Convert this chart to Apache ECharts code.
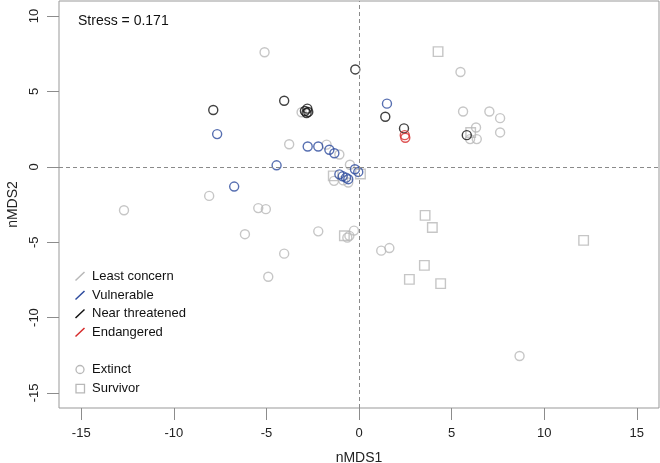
<!DOCTYPE html>
<html>
<head>
<meta charset="utf-8">
<script src="https://cdn.jsdelivr.net/npm/echarts@6/dist/echarts.min.js"></script>
<style>html,body{margin:0;padding:0;background:#fff}#c{width:660px;height:463px}</style>
</head>
<body>
<div id="c"></div>
<script>
// ---- data ----
const xTicks = [-15, -10, -5, 0, 5, 10, 15];
const yTicks = [-15, -10, -5, 0, 5, 10];

// Least concern, extinct (grey circles)
const lcExtinct = [
  [-5.1, 7.6], [5.48, 6.29], [5.62, 3.67], [7.04, 3.67], [7.62, 3.23], [6.32, 2.61],
  [7.62, 2.28], [6.0, 1.84], [6.36, 1.84], [-3.1, 3.62], [-3.77, 1.5], [-1.75, 1.47],
  [-1.06, 0.82], [-0.49, 0.14], [-1.35, -0.93], [-0.58, -1.04], [-0.85, -0.9],
  [-8.09, -1.93], [-12.69, -2.88], [-5.44, -2.74], [-5.03, -2.81], [-6.16, -4.47],
  [-2.2, -4.28], [-0.63, -4.7], [-0.52, -4.58], [-0.27, -4.23], [-4.04, -5.76],
  [-4.9, -7.29], [1.2, -5.56], [1.64, -5.39], [8.67, -12.55]
];
// Least concern, survivor (grey squares)
const lcSurvivor = [
  [4.27, 7.64], [6.03, 2.28], [-1.39, -0.6], [0.08, -0.48], [-0.79, -4.57],
  [3.57, -3.22], [3.96, -4.03], [12.13, -4.88], [3.53, -6.54], [2.72, -7.47], [4.41, -7.75]
];
// Vulnerable (blue circles)
const vuExtinct = [
  [1.51, 4.19], [-7.66, 2.17], [-2.77, 1.35], [-2.2, 1.35], [-1.6, 1.13], [-1.33, 0.9],
  [-4.45, 0.1], [-6.74, -1.31], [-0.22, -0.16], [-0.04, -0.34], [-1.06, -0.5],
  [-0.88, -0.63], [-0.7, -0.72], [-0.58, -0.82]
];
// Near threatened (black circles)
const ntExtinct = [
  [-0.2, 6.46], [-7.87, 3.77], [-4.04, 4.38], [-2.92, 3.7], [-2.79, 3.86], [-2.74, 3.64],
  [-2.83, 3.57], [1.42, 3.32], [2.43, 2.55], [5.82, 2.1]
];
// Endangered (red circles)
const enExtinct = [[2.47, 2.1], [2.5, 1.93]];

const statusLabels = ['Least concern', 'Vulnerable', 'Near threatened', 'Endangered'];
const shapeLabels = ['Extinct', 'Survivor'];
const stressText = 'Stress = 0.171';

// ---- styling ----
const FONT = '"Liberation Sans", Arial, Helvetica, sans-serif';
const C_GREY = '#b8b8b8', C_BLUE = '#2d4b9e', C_BLACK = '#111111', C_RED = '#d62a2a';
const statusColors = [C_GREY, C_BLUE, C_BLACK, C_RED];

function scatter(name, data, color, symbol, size) {
  return {
    name: name, type: 'scatter', data: data, symbol: symbol, symbolSize: size,
    itemStyle: { color: 'rgba(0,0,0,0)', borderColor: color, borderWidth: 1.4 },
    silent: true, animation: false, z: 3
  };
}

const series = [
  Object.assign(scatter('lcE', lcExtinct, C_GREY, 'circle', 9), {
    markLine: {
      silent: true, symbol: 'none', animation: false,
      label: { show: false },
      lineStyle: { color: '#8a8a8a', width: 1, type: [4, 3] },
      data: [{ xAxis: 0 }, { yAxis: 0 }]
    }
  }),
  scatter('lcS', lcSurvivor, C_GREY, 'rect', 9.5),
  scatter('vu', vuExtinct, C_BLUE, 'circle', 9),
  scatter('nt', ntExtinct, C_BLACK, 'circle', 9),
  scatter('en', enExtinct, C_RED, 'circle', 9)
];

// legend drawn as graphic
const g = [];
g.push({ type: 'text', x: 78, y: 21, style: { text: stressText, font: '14px ' + FONT, fill: '#111', verticalAlign: 'middle' } });
const rowsY = [276, 295, 313.5, 332];
statusLabels.forEach((t, i) => {
  const y = rowsY[i];
  g.push({ type: 'line', shape: { x1: 75.5, y1: y + 4.5, x2: 84.5, y2: y - 4 }, style: { stroke: statusColors[i], lineWidth: 1.5 } });
  g.push({ type: 'text', x: 92, y: y, style: { text: t, font: '13px ' + FONT, fill: '#111', verticalAlign: 'middle' } });
});
g.push({ type: 'circle', shape: { cx: 80, cy: 369.5, r: 4 }, style: { fill: 'none', stroke: C_GREY, lineWidth: 1.3 } });
g.push({ type: 'text', x: 92, y: 369.5, style: { text: shapeLabels[0], font: '13px ' + FONT, fill: '#111', verticalAlign: 'middle' } });
g.push({ type: 'rect', shape: { x: 76, y: 384.3, width: 8.5, height: 8.5 }, style: { fill: 'none', stroke: C_GREY, lineWidth: 1.3 } });
g.push({ type: 'text', x: 92, y: 388.5, style: { text: shapeLabels[1], font: '13px ' + FONT, fill: '#111', verticalAlign: 'middle' } });

const axisCommon = {
  type: 'value', scale: false,
  axisLine: { show: false, onZero: false },
  splitLine: { show: false },
  axisTick: { show: true, inside: false, length: 12, lineStyle: { color: '#8c8c8c', width: 1 } },
  axisLabel: { color: '#222', fontSize: 13, fontFamily: FONT },
  nameLocation: 'middle',
  nameTextStyle: { color: '#222', fontSize: 14, fontFamily: FONT }
};

const option = {
  animation: false,
  backgroundColor: '#fff',
  grid: { left: 59, right: 1, top: 1, bottom: 55, show: true, borderColor: '#999', borderWidth: 1,
          containLabel: false, outerBoundsMode: 'none' },
  xAxis: Object.assign({}, axisCommon, {
    min: -16.2, max: 16.2, name: 'nMDS1', nameGap: 43,
    axisTick: Object.assign({}, axisCommon.axisTick, { customValues: xTicks }),
    axisLabel: Object.assign({}, axisCommon.axisLabel, { customValues: xTicks, margin: 19 })
  }),
  yAxis: Object.assign({}, axisCommon, {
    min: -16, max: 11, name: 'nMDS2', nameGap: 38,
    axisTick: Object.assign({}, axisCommon.axisTick, { customValues: yTicks }),
    axisLabel: Object.assign({}, axisCommon.axisLabel, { customValues: yTicks, rotate: 90, margin: 18 })
  }),
  series: series,
  graphic: g
};

const chart = echarts.init(document.getElementById('c'), null, { renderer: 'canvas' });
chart.setOption(option);
</script>
</body>
</html>
